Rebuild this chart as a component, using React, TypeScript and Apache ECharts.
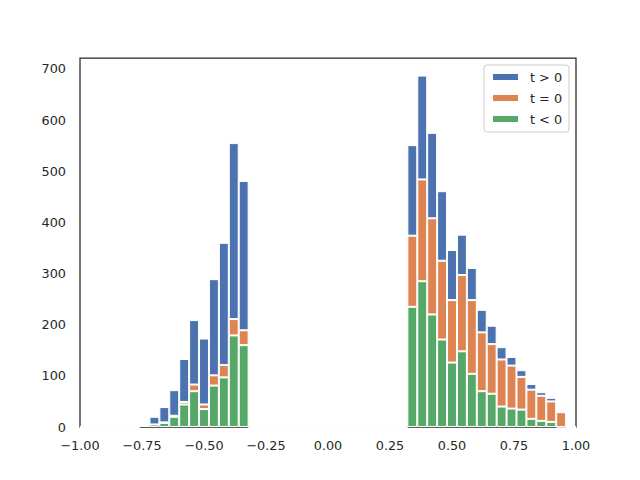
import React, { useEffect, useRef } from "react";
import * as echarts from "echarts";

// 50 bins of width 0.04 from -1 to 1
const binEdgesStart = -1;
const binWidth = 0.04;
const binCount = 50;

// counts per bin (bottom: t < 0, middle: t = 0, top: t > 0)
const tNeg = [
  0, 0, 0, 0, 0, 0, 2, 5, 8, 20,
  44, 70, 35, 81, 97, 179, 160, 0, 0, 0,
  0, 0, 0, 0, 0, 0, 0, 0, 0, 0,
  0, 0, 0, 235, 285, 220, 171, 126, 148, 104,
  70, 65, 40, 36, 34, 16, 12, 10, 0, 0,
];
const tZero = [
  0, 0, 0, 0, 0, 0, 0, 0, 1, 2,
  5, 13, 9, 20, 24, 32, 29, 0, 0, 0,
  0, 0, 0, 0, 0, 0, 0, 0, 0, 0,
  0, 0, 0, 139, 199, 188, 154, 122, 149, 144,
  115, 97, 92, 84, 64, 57, 49, 40, 29, 0,
];
const tPos = [
  0, 0, 0, 0, 0, 0, 3, 15, 30, 50,
  84, 126, 129, 188, 239, 344, 292, 0, 0, 0,
  0, 0, 0, 0, 0, 0, 0, 0, 0, 0,
  0, 0, 0, 177, 203, 167, 136, 98, 79, 63,
  44, 36, 24, 17, 13, 11, 7, 7, 0, 0,
];

const seriesNames = ["t > 0", "t = 0", "t < 0"];
const xTickInterval = 0.25;

export default function App() {
  const ref = useRef<HTMLDivElement>(null);
  useEffect(() => {
    if (!ref.current) return;
    const chart = echarts.init(ref.current, undefined, { renderer: "svg" });
    const cats = Array.from({ length: binCount }, (_, i) =>
      (binEdgesStart + binWidth * (i + 0.5)).toFixed(2)
    );
    const fontFamily = "DejaVu Sans";
    const textColor = "#262626";
    const barStyle = (color: string) => ({
      color,
      borderColor: "#ffffff",
      borderWidth: 1,
    });
    chart.setOption({
      animation: false,
      backgroundColor: "#ffffff",
      grid: {
        left: 80,
        right: 64,
        top: 58,
        bottom: 53,
        show: true,
        borderColor: "#262626",
        borderWidth: 1.25,
        backgroundColor: "transparent",
      },
      legend: {
        data: seriesNames,
        orient: "vertical",
        left: 484,
        top: 65,
        itemWidth: 27,
        itemHeight: 8,
        itemGap: 7,
        padding: [5, 7, 6, 7],
        borderColor: "#cccccc",
        borderWidth: 1,
        borderRadius: 3,
        backgroundColor: "rgba(255,255,255,0.8)",
        icon: "rect",
        textStyle: {
          fontFamily,
          fontSize: 12.8,
          color: textColor,
          lineHeight: 14,
          padding: [0, 0, 0, 6],
        },
      },
      xAxis: [
        {
          type: "category",
          data: cats,
          show: false,
          boundaryGap: true,
        },
        {
          type: "value",
          min: -1,
          max: 1,
          interval: xTickInterval,
          position: "bottom",
          axisLine: { show: false },
          axisTick: { show: false },
          splitLine: { show: false },
          axisLabel: {
            fontFamily,
            fontSize: 12.8,
            color: textColor,
            margin: 12,
            formatter: (v: number) => v.toFixed(2).replace("-", "\u2212"),
          },
        },
      ],
      yAxis: {
        type: "value",
        min: 0,
        max: 721.35,
        interval: 100,
        axisLine: { show: false },
        axisTick: { show: false },
        splitLine: { show: false },
        axisLabel: {
          fontFamily,
          fontSize: 12.8,
          color: textColor,
          margin: 14,
        },
      },
      series: [
        {
          name: "t < 0",
          type: "bar",
          stack: "h",
          xAxisIndex: 0,
          barWidth: "100%",
          data: tNeg,
          itemStyle: barStyle("#55A868"),
        },
        {
          name: "t = 0",
          type: "bar",
          stack: "h",
          xAxisIndex: 0,
          barWidth: "100%",
          data: tZero,
          itemStyle: barStyle("#DD8452"),
        },
        {
          name: "t > 0",
          type: "bar",
          stack: "h",
          xAxisIndex: 0,
          barWidth: "100%",
          data: tPos,
          itemStyle: barStyle("#4C72B0"),
        },
      ],
    });
    return () => chart.dispose();
  }, []);
  return (
    <div
      ref={ref}
      style={{ position: "fixed", left: 0, top: 0, width: 640, height: 480 }}
    />
  );
}
